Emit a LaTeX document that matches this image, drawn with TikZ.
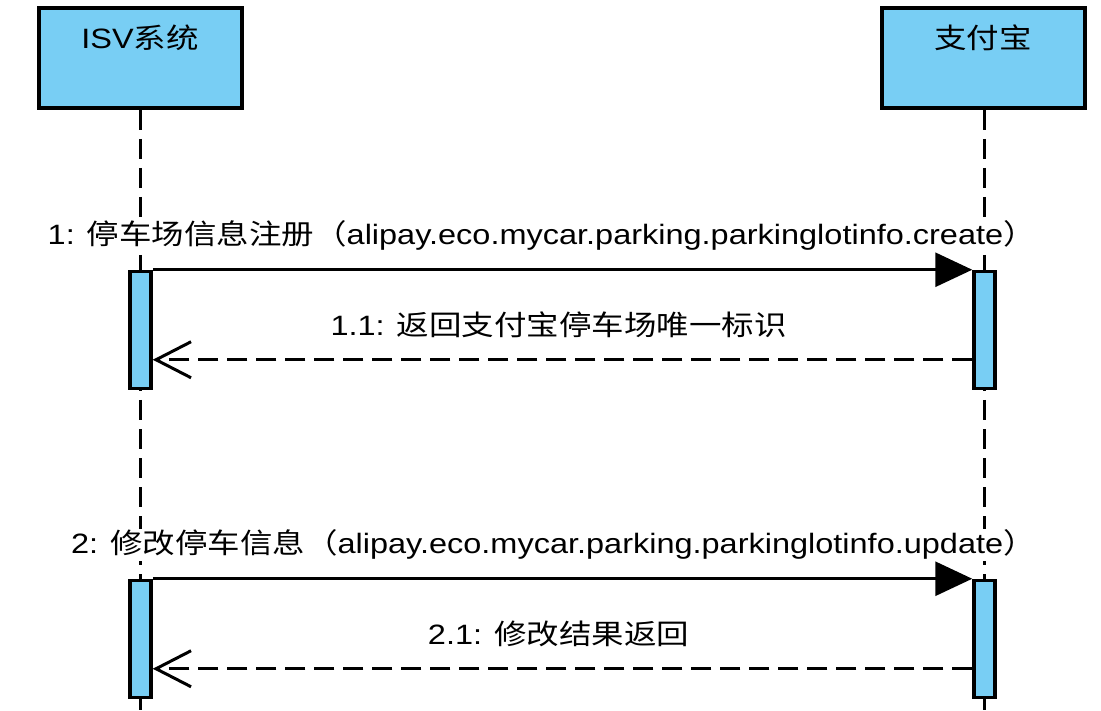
\documentclass[tikz,border=0pt]{standalone}
\usepackage{fontspec}
\setmainfont{Liberation Sans}[FakeStretch=1.16]
\newfontfamily\cjk{Noto Sans CJK SC}[FakeStretch=1.16]
\usetikzlibrary{arrows.meta,positioning}
\definecolor{sky}{RGB}{120,206,244}
\tikzset{
  actor/.style={draw,line width=4pt,fill=sky,minimum width=203pt,minimum height=100pt,inner ysep=8pt,text height=21pt,text depth=39pt,font=\fontsize{28}{30}\selectfont},
  bar/.style={draw,line width=3.5pt,fill=sky,minimum width=21pt,minimum height=117pt,inner sep=0pt},
  life/.style={line width=3pt,dash pattern=on 20pt off 9pt},
  msg/.style={line width=3pt,-{Triangle[length=37pt,width=34pt]}},
  ret/.style={line width=3pt,dash pattern=on 20pt off 9pt,-{Straight Barb[length=35pt,width=36pt]}},
  lab/.style={font=\fontsize{28}{30}\selectfont,fill=white,inner sep=1pt}
}
\begin{document}
\begin{tikzpicture}[x=1pt,y=-1pt]
  \useasboundingbox (0,0) rectangle (1101,711);
  % lifelines
  \coordinate (isvend) at (140.5,711);
  \coordinate (alipayend) at (984.5,711);
  \draw[life] (140.5,110) -- (isvend);
  \draw[life] (984.5,110) -- (alipayend);

  \node[actor] (isv) at (140,58) {ISV{\cjk 系统}};
  \node[actor] (alipay) at (983,58) {{\cjk 支付宝}};

  % first call
  \node[bar] (b1) at (140.5,330) {};
  \node[bar] (b2) at (984.5,330) {};
  \draw[msg] (b1.north east) -- node[lab,pos=1,anchor=base east,xshift=66pt,yshift=25pt]{1: {\cjk 停车场信息注册（}alipay.eco.mycar.parking.parkinglotinfo.create{\cjk ）}} (b2.north west);
  \draw[ret] ([yshift=-90pt]b2.north west) -- node[lab,anchor=base,yshift=24pt,xshift=-4pt]{1.1: {\cjk 返回支付宝停车场唯一标识}} ([yshift=-90pt]b1.north east);

  % second call
  \node[bar] (b3) at (140.5,639) {};
  \node[bar] (b4) at (984.5,639) {};
  \draw[msg] (b3.north east) -- node[lab,pos=1,anchor=base east,xshift=66pt,yshift=25pt]{2: {\cjk 修改停车信息（}alipay.eco.mycar.parking.parkinglotinfo.update{\cjk ）}} (b4.north west);
  \draw[ret] ([yshift=-90pt]b4.north west) -- node[lab,anchor=base,yshift=24pt,xshift=-4pt]{2.1: {\cjk 修改结果返回}} ([yshift=-90pt]b3.north east);
\end{tikzpicture}
\end{document}
